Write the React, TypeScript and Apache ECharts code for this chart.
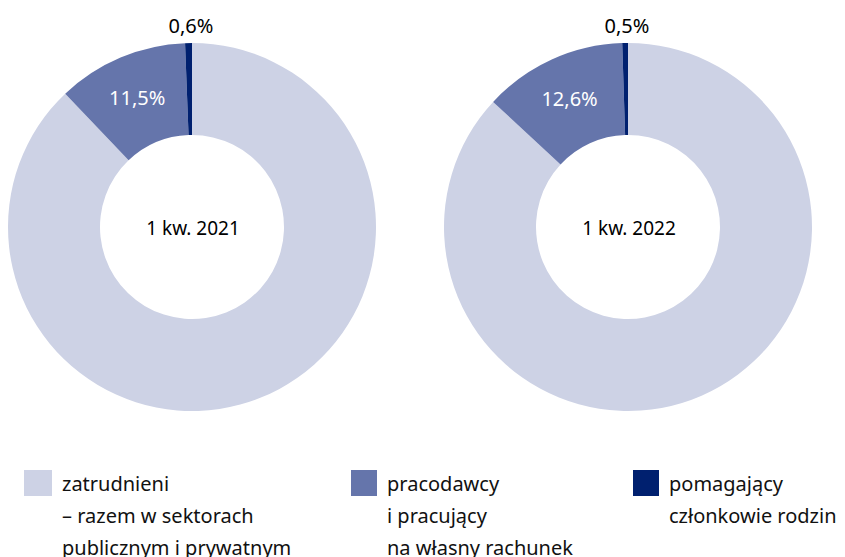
import React, { useEffect, useRef } from "react";
import * as echarts from "echarts";

const categories = [
  "zatrudnieni\n– razem w sektorach\npublicznym i prywatnym",
  "pracodawcy\ni pracujący\nna własny rachunek",
  "pomagający\nczłonkowie rodzin",
];
const periods = ["1 kw. 2021", "1 kw. 2022"];
const values2021 = [87.9, 11.5, 0.6];
const values2022 = [86.9, 12.6, 0.5];
const colors = ["#CDD2E5", "#6575AB", "#00206F"];

const FONT = "Noto Sans";
const fmt = (v: number) => v.toFixed(1).replace(".", ",") + "%";

export default function App() {
  const ref = useRef<HTMLDivElement>(null);
  useEffect(() => {
    document.body.style.margin = "0";
    const chart = echarts.init(ref.current!, null, { renderer: "svg" });
    const centers = [
      [192, 227],
      [628, 227],
    ];
    const allValues = [values2021, values2022];
    const makeSeries = (vals: number[], idx: number) => ({
      type: "pie",
      name: periods[idx],
      center: centers[idx],
      radius: [92, 184],
      startAngle: 90,
      clockwise: true,
      silent: true,
      label: { show: false },
      labelLine: { show: false },
      data: vals.map((v, i) => ({
        name: categories[i],
        value: v,
        itemStyle: { color: colors[i] },
        label:
          i === 1
            ? {
                show: true,
                position: "inside",
                formatter: () => fmt(v),
                color: "#ffffff",
                fontSize: 20,
                fontFamily: FONT,
              }
            : { show: false },
      })),
    });
    const graphics: any[] = [];
    allValues.forEach((vals, idx) => {
      const [cx, cy] = centers[idx];
      graphics.push({
        type: "text",
        x: cx + 1,
        y: cy + 1,
        style: { text: periods[idx], fill: "#000", font: `19px "${FONT}"`, textAlign: "center", textVerticalAlign: "middle" },
      });
      graphics.push({
        type: "text",
        x: cx + 2,
        y: cy + 136,
        style: { text: fmt(vals[0]), fill: "#000", font: `20px "${FONT}"`, textAlign: "center", textVerticalAlign: "middle" },
      });
      graphics.push({
        type: "text",
        x: cx - 1,
        y: 25,
        style: { text: fmt(vals[2]), fill: "#000", font: `20px "${FONT}"`, textAlign: "center", textVerticalAlign: "middle" },
      });
    });
    const legendLefts = [24, 351, 633];
    const iconWidths = [28, 26, 26];
    const blankLines = [2, 2, 1];
    const tops = [483 - 80, 483 - 80, 483 - 48];
    const legends = categories.map((c, i) => ({
      show: true,
      left: legendLefts[i],
      top: tops[i],
      padding: 0,
      data: [c],
      icon: "rect",
      itemWidth: iconWidths[i],
      itemHeight: 26,
      itemGap: 0,
      selectedMode: false,
      formatter: (name: string) => "\n".repeat(blankLines[i]) + name,
      textStyle: {
        fontFamily: FONT,
        fontSize: 20,
        color: "#111",
        lineHeight: 32,
        padding: [0, 0, 0, 5],
      },
    }));
    chart.setOption({
      animation: false,
      legend: legends,
      series: [makeSeries(values2021, 0), makeSeries(values2022, 1)],
      graphic: graphics,
    });
    return () => chart.dispose();
  }, []);
  return <div ref={ref} style={{ width: 845, height: 557 }} />;
}
